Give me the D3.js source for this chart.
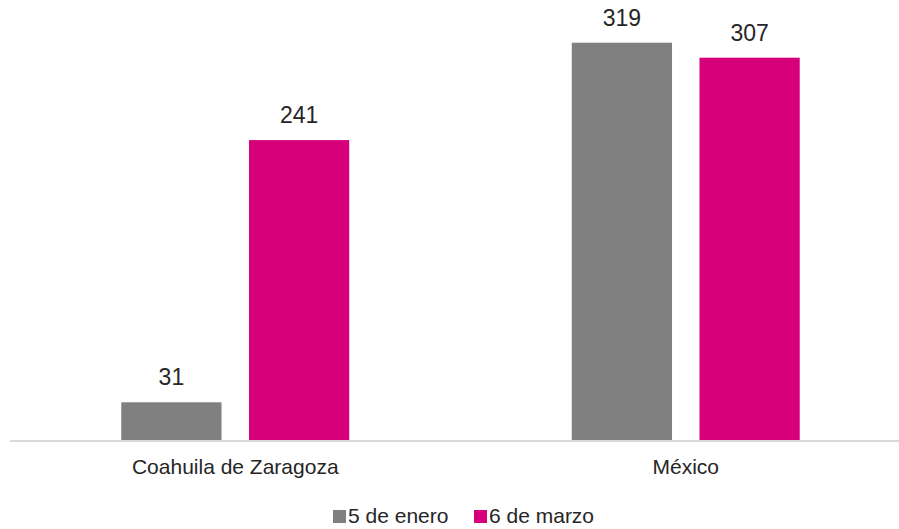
<!DOCTYPE html>
<html>
<head>
<meta charset="utf-8">
<script src="https://cdn.jsdelivr.net/npm/d3@7"></script>
<style>
  body { margin: 0; background: #fff; }
  text { font-family: "Liberation Sans", Arial, sans-serif; fill: #262626; }
</style>
</head>
<body>
<svg id="chart" width="899" height="529"></svg>
<script>
var categories = ["Coahuila de Zaragoza", "México"];
var seriesNames = ["5 de enero", "6 de marzo"];
var enero = [31, 319];
var marzo = [241, 307];
var colors = ["#808080", "#d6007b"];

var svg = d3.select("#chart"),
    baseY = 441;

var data = categories.map(function(c, i) {
  return {cat: c, values: [{key: seriesNames[0], value: enero[i]}, {key: seriesNames[1], value: marzo[i]}]};
});

var x0 = d3.scaleBand()
    .domain(categories)
    .range([10, 911])
    .paddingInner(0.494)
    .paddingOuter(0.247);

var x1 = d3.scaleBand()
    .domain(seriesNames)
    .range([0, x0.bandwidth()])
    .paddingInner(0.215);

var y = d3.scaleLinear().domain([0, 350]).range([baseY, 4]);

var z = d3.scaleOrdinal().domain(seriesNames).range(colors);

var group = svg.selectAll(".grp")
  .data(data)
  .enter().append("g")
    .attr("class", "grp")
    .attr("transform", function(d) { return "translate(" + x0(d.cat) + ",0)"; });

group.selectAll("rect")
  .data(function(d) { return d.values; })
  .enter().append("rect")
    .attr("x", function(d) { return x1(d.key); })
    .attr("y", function(d) { return y(d.value); })
    .attr("width", x1.bandwidth())
    .attr("height", function(d) { return baseY - y(d.value); })
    .attr("fill", function(d) { return z(d.key); });

group.selectAll(".lbl")
  .data(function(d) { return d.values; })
  .enter().append("text")
    .attr("class", "lbl")
    .attr("x", function(d) { return x1(d.key) + x1.bandwidth() / 2; })
    .attr("y", function(d) { return y(d.value) - 17; })
    .attr("text-anchor", "middle")
    .attr("font-size", 23)
    .text(function(d) { return d.value; });

// axis line
svg.append("line")
    .attr("x1", 10).attr("x2", 899)
    .attr("y1", baseY).attr("y2", baseY)
    .attr("stroke", "#d9d9d9")
    .attr("stroke-width", 2);

svg.selectAll(".cat")
  .data(categories)
  .enter().append("text")
    .attr("class", "cat")
    .attr("x", function(d) { return x0(d) + x0.bandwidth() / 2; })
    .attr("y", 474)
    .attr("text-anchor", "middle")
    .attr("font-size", 21)
    .text(function(d) { return d; });

// legend
var legendX = [333, 474];
var legend = svg.selectAll(".leg")
  .data(seriesNames)
  .enter().append("g")
    .attr("class", "leg")
    .attr("transform", function(d, i) { return "translate(" + legendX[i] + ",0)"; });

legend.append("rect")
    .attr("y", 510)
    .attr("width", 13)
    .attr("height", 13)
    .attr("fill", z);

legend.append("text")
    .attr("x", 15)
    .attr("y", 523)
    .attr("font-size", 21)
    .text(function(d) { return d; });
</script>
</body>
</html>
